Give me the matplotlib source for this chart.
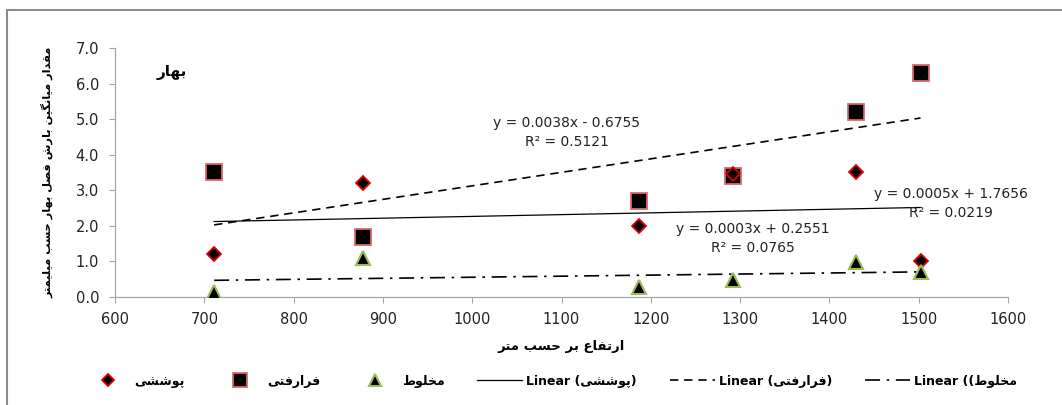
import matplotlib
matplotlib.use("Agg")
import numpy as np
import matplotlib.pyplot as plt
from matplotlib.lines import Line2D
from matplotlib.patches import Rectangle

plt.rcParams['font.family'] = ['DejaVu Sans']

# ---- data ----
elevation = [711, 878, 1187, 1292, 1430, 1502]
poosheshi = [1.2, 3.2, 2.0, 3.45, 3.5, 1.0]
fararafti = [3.5, 1.7, 2.7, 3.4, 5.2, 6.3]
makhloot = [0.15, 1.1, 0.28, 0.48, 0.97, 0.7]

# trend lines as printed on the chart: slope, intercept, R2
trend_slope = [0.0005, 0.0038, 0.0003]
trend_icept = [1.7656, -0.6755, 0.2551]
trend_r2 = [0.0219, 0.5121, 0.0765]

series_names = ['پوششی', 'فرارفتی', 'مخلوط']
title_fa = 'بهار'
xlabel_fa = 'ارتفاع بر حسب متر'
ylabel_fa = 'مقدار میانگین بارش فصل بهار حسب میلیمتر'

xticks = [600, 700, 800, 900, 1000, 1100, 1200, 1300, 1400, 1500, 1600]
yticks = [0.0, 1.0, 2.0, 3.0, 4.0, 5.0, 6.0, 7.0]

# ---- minimal Persian shaping (matplotlib has no bidi/shaping) ----
# char: (isolated, final, initial, medial); None for right-joining letters
FORMS = {
    'ا': ('\uFE8D', '\uFE8E', None, None),
    'د': ('\uFEA9', '\uFEAA', None, None),
    'ر': ('\uFEAD', '\uFEAE', None, None),
    'و': ('\uFEED', '\uFEEE', None, None),
    'ب': ('\uFE8F', '\uFE90', '\uFE91', '\uFE92'),
    'ت': ('\uFE95', '\uFE96', '\uFE97', '\uFE98'),
    'ح': ('\uFEA1', '\uFEA2', '\uFEA3', '\uFEA4'),
    'خ': ('\uFEA5', '\uFEA6', '\uFEA7', '\uFEA8'),
    'س': ('\uFEB1', '\uFEB2', '\uFEB3', '\uFEB4'),
    'ش': ('\uFEB5', '\uFEB6', '\uFEB7', '\uFEB8'),
    'ص': ('\uFEB9', '\uFEBA', '\uFEBB', '\uFEBC'),
    'ط': ('\uFEC1', '\uFEC2', '\uFEC3', '\uFEC4'),
    'ع': ('\uFEC9', '\uFECA', '\uFECB', '\uFECC'),
    'ف': ('\uFED1', '\uFED2', '\uFED3', '\uFED4'),
    'ق': ('\uFED5', '\uFED6', '\uFED7', '\uFED8'),
    'ل': ('\uFEDD', '\uFEDE', '\uFEDF', '\uFEE0'),
    'م': ('\uFEE1', '\uFEE2', '\uFEE3', '\uFEE4'),
    'ن': ('\uFEE5', '\uFEE6', '\uFEE7', '\uFEE8'),
    'ه': ('\uFEE9', '\uFEEA', '\uFEEB', '\uFEEC'),
    'پ': ('\uFB56', '\uFB57', '\uFB58', '\uFB59'),
    'گ': ('\uFB92', '\uFB93', '\uFB94', '\uFB95'),
    'ی': ('\uFBFC', '\uFBFD', '\uFBFE', '\uFBFF'),
}


def fa(text):
    out = []
    for i, ch in enumerate(text):
        if ch not in FORMS:
            out.append(ch)
            continue
        prev = text[i - 1] if i > 0 else ''
        nxt = text[i + 1] if i + 1 < len(text) else ''
        join_prev = prev in FORMS and FORMS[prev][2] is not None
        join_next = nxt in FORMS and FORMS[ch][2] is not None
        iso, fin, ini, med = FORMS[ch]
        if join_prev and join_next:
            out.append(med)
        elif join_prev:
            out.append(fin)
        elif join_next:
            out.append(ini)
        else:
            out.append(iso)
    return ''.join(reversed(out))


# ---- plot ----
fig = plt.figure(figsize=(10.62, 4.05), dpi=100)
ax = fig.add_axes([0.1083, 0.2667, 0.8409, 0.6148])

ax.plot(elevation, poosheshi, linestyle='none', marker='D', ms=7.5,
        mfc='black', mec='#E00000', mew=1.3, zorder=4)
ax.plot(elevation, fararafti, linestyle='none', marker='s', ms=11,
        mfc='black', mec='#D9686A', mew=1.3, zorder=3)
ax.plot(elevation, makhloot, linestyle='none', marker='^', ms=10,
        mfc='black', mec='#9BBB59', mew=1.5, zorder=4)

styles = ['-', (0, (5, 3.5)), (0, (9, 4, 1.5, 4))]
widths = [0.9, 1.2, 1.2]
xs = np.array([min(elevation), max(elevation)])
for k in range(3):
    ax.plot(xs, trend_slope[k] * xs + trend_icept[k], color='black',
            linestyle=styles[k], lw=widths[k], zorder=2)

# equation labels
eq_pos = [(1536, 2.89), (1106, 4.89), (1314, 1.91)]
for k in range(3):
    sign = '+' if trend_icept[k] >= 0 else '-'
    eq = f'y = {trend_slope[k]:.4f}x {sign} {abs(trend_icept[k]):.4f}'
    ex, ey = eq_pos[k]
    ax.text(ex, ey, eq, ha='center', va='center', fontsize=10, color='#222222')
    ax.text(ex, ey - 0.53, f'R² = {trend_r2[k]:.4f}', ha='center', va='center',
            fontsize=10, color='#222222')

ax.text(0.064, 0.90, fa(title_fa), transform=ax.transAxes, ha='center',
        va='center', fontsize=11, fontweight='bold')

ax.set_xlim(600, 1600)
ax.set_ylim(0, 7)
ax.set_xticks(xticks)
ax.set_yticks(yticks)
ax.set_yticklabels([f'{v:.1f}' for v in yticks])
ax.tick_params(axis='both', labelsize=10.5, color='#A6A6A6', length=4.5,
               width=0.8, labelcolor='#222222')
ax.tick_params(axis='y', pad=7)
ax.tick_params(axis='x', pad=6)
for side in ['top', 'right']:
    ax.spines[side].set_visible(False)
for side in ['left', 'bottom']:
    ax.spines[side].set_color('#A6A6A6')
    ax.spines[side].set_linewidth(0.9)

ax.set_xlabel(fa(xlabel_fa), fontsize=9.5, fontweight='bold', labelpad=10)
ax.set_ylabel(fa(ylabel_fa), fontsize=8.2, fontweight='bold', labelpad=16)

# legend
handles = [
    Line2D([], [], linestyle='none', marker='D', ms=6.5, mfc='black', mec='#E00000', mew=1.3),
    Line2D([], [], linestyle='none', marker='s', ms=9.5, mfc='black', mec='#D9686A', mew=1.3),
    Line2D([], [], linestyle='none', marker='^', ms=8.5, mfc='black', mec='#9BBB59', mew=1.5),
    Line2D([], [], color='black', linestyle=styles[0], lw=0.9),
    Line2D([], [], color='black', linestyle=styles[1], lw=1.2),
    Line2D([], [], color='black', linestyle=styles[2], lw=1.2),
]
labels = [fa(n) for n in series_names]
labels += ['Linear (' + fa(series_names[0]) + ')',
           'Linear (' + fa(series_names[1]) + ')',
           'Linear ((' + fa(series_names[2])]
fig.legend(handles, labels, ncol=6, loc='center', bbox_to_anchor=(0.519, 0.059),
           frameon=False, prop={'size': 9, 'weight': 'bold'},
           handlelength=3.6, handletextpad=0.35, columnspacing=2.6)

# chart-area border (only top and left edges fall inside the image)
fig.add_artist(Rectangle((7 / 1062, -0.2), 2, 1.2 - 10 / 405, transform=fig.transFigure,
                         fill=False, ec='#8C8C8C', lw=1.5))

fig.savefig('out.png', dpi=100)
